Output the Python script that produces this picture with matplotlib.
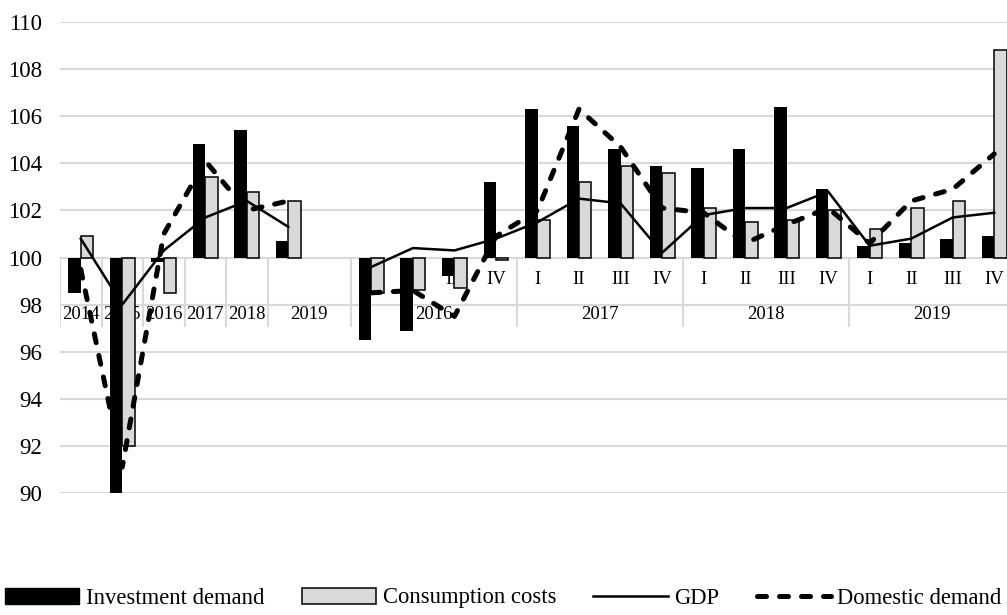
import numpy as np
import matplotlib
matplotlib.use("Agg")
import matplotlib.pyplot as plt
from matplotlib.patches import Patch
from matplotlib.lines import Line2D

plt.rcParams['font.family'] = ['Liberation Serif', 'DejaVu Serif']

# Data: annual 2014-2019, then quarterly 2016-2019
years = ['2014', '2015', '2016', '2017', '2018', '2019']
q_years = ['2016', '2017', '2018', '2019']
quarters = ['I', 'II', 'III', 'IV']

inv_annual = [98.5, 90.0, 99.8, 104.8, 105.4, 100.7]
cons_annual = [100.9, 92.0, 98.5, 103.4, 102.8, 102.4]
gdp_annual = [100.8, 98.0, 100.3, 101.7, 102.4, 101.3]
dom_annual = [99.5, 91.1, 101.0, 104.1, 102.0, 102.4]

inv_q = [96.5, 96.9, 99.2, 103.2,
         106.3, 105.6, 104.6, 103.9,
         103.8, 104.6, 106.4, 102.9,
         100.5, 100.6, 100.8, 100.9]
cons_q = [98.5, 98.6, 98.7, 99.9,
          101.6, 103.2, 103.9, 103.6,
          102.1, 101.5, 101.6, 102.0,
          101.2, 102.1, 102.4, 108.8]
gdp_q = [99.6, 100.4, 100.3, 100.8,
         101.5, 102.5, 102.3, 100.2,
         101.8, 102.1, 102.1, 102.8,
         100.5, 100.8, 101.7, 101.9]
dom_q = [98.5, 98.6, 97.5, 100.9,
         102.0, 106.3, 104.7, 102.1,
         101.9, 100.6, 101.4, 102.1,
         100.6, 102.4, 102.9, 104.4]

# join both blocks with one empty category between them
gap = [np.nan]
inv = np.array(inv_annual + gap + inv_q)
cons = np.array(cons_annual + gap + cons_q)
gdp = np.array(gdp_annual + gap + gdp_q)
dom = np.array(dom_annual + gap + dom_q)
x = np.arange(len(inv))
ok = ~np.isnan(inv)
base = 100.0

fig = plt.figure(figsize=(10.07, 6.15), dpi=100)
ax = fig.add_axes([60 / 1007, 1 - 493 / 615, 955 / 1007, 471 / 615])

grid_c = '#d9d9d9'
for v in range(90, 111, 2):
    ax.axhline(v, color=grid_c, lw=1.5, zorder=0)

bw = 0.3
ax.bar(x[ok] - bw / 2, inv[ok] - base, bw, bottom=base, color='black',
       zorder=3)
ax.bar(x[ok] + bw / 2, cons[ok] - base, bw, bottom=base, color=grid_c,
       edgecolor='black', linewidth=1.1, zorder=3)
ax.plot(x, gdp, color='black', lw=1.8, zorder=4)
ax.plot(x, dom, color='black', lw=3.6, dashes=(1.8, 2.6),
        dash_capstyle='round', zorder=5)

# multi-level category axis
y_q, y_y = 99.05, 97.6
fs_cat = 13.5
for i, y in enumerate(years[:-1]):
    ax.text(i, y_y, y, ha='center', va='center', fontsize=fs_cat, zorder=1)
ax.text(5.5, y_y, years[-1], ha='center', va='center', fontsize=fs_cat, zorder=1)
for k in range(len(quarters) * len(q_years)):
    ax.text(7 + k, y_q, quarters[k % 4], ha='center', va='center',
            fontsize=fs_cat, zorder=1)
for j, y in enumerate(q_years):
    ax.text(7 + 4 * j + 1.5, y_y, y, ha='center', va='center', fontsize=fs_cat,
            zorder=1)
seps = [-0.5, 0.5, 1.5, 2.5, 3.5, 4.5, 6.5, 10.5, 14.5, 18.5, 22.5]
for s in seps:
    ax.plot([s, s], [base, 97.1], color=grid_c, lw=1.5, zorder=0)

ax.set_xlim(-0.5, 22.5)
ax.set_ylim(90, 110)
ax.set_yticks(range(90, 111, 2))
ax.set_xticks([])
ax.tick_params(axis='y', length=0, pad=13, labelsize=16.5)
for sp in ax.spines.values():
    sp.set_visible(False)

handles = [Patch(facecolor='black', edgecolor='black'),
           Patch(facecolor=grid_c, edgecolor='black', linewidth=1.1),
           Line2D([], [], color='black', lw=1.8),
           Line2D([], [], color='black', lw=3.6, dashes=(1.8, 2.6),
                  dash_capstyle='round')]
labels = ['Investment demand', 'Consumption costs', 'GDP', 'Domestic demand']
fig.legend(handles, labels, loc='center', bbox_to_anchor=(0.5, 1 - 598 / 615),
           ncol=4, frameon=False, fontsize=16.3, handlelength=3.27,
           handleheight=0.7, handletextpad=0.3, columnspacing=1.65)

fig.savefig('out.png', dpi=100)
